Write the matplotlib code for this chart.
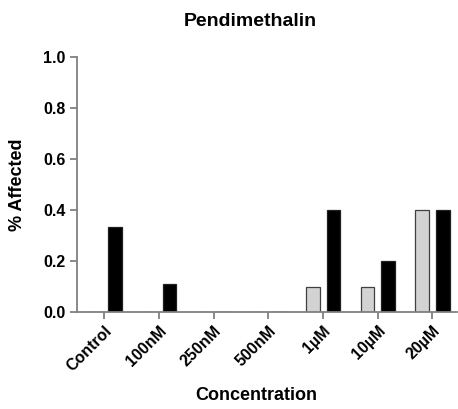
import matplotlib
matplotlib.use("Agg")
import matplotlib.pyplot as plt
import numpy as np

categories = ["Control", "100nM", "250nM", "500nM", "1µM", "10µM", "20µM"]
series_grey = [0, 0, 0, 0, 0.1, 0.1, 0.4]
series_black = [0.333, 0.111, 0, 0, 0.4, 0.2, 0.4]
yticks = [0.0, 0.2, 0.4, 0.6, 0.8, 1.0]

plt.rcParams['font.family'] = ['Liberation Sans', 'DejaVu Sans']
plt.rcParams['font.weight'] = 'bold'

fig = plt.figure(figsize=(4.58, 4.09), dpi=100)
ax = fig.add_axes([0.168, 0.237, 0.83, 0.624])

x = np.arange(len(categories))
w = 0.25
ax.bar(x - 0.19, series_grey, width=w, color='#d3d3d3', edgecolor='#404040', linewidth=0.9)
ax.bar(x + 0.19, series_black, width=w, color='black', edgecolor='#202020', linewidth=0.9)

ax.set_xlim(-0.5, 6.45)
ax.set_ylim(0, 1.0)
ax.set_yticks(yticks)
ax.set_yticklabels([f"{v:.1f}" for v in yticks], fontsize=11.5, fontweight='bold')
ax.set_xticks(x)
ax.set_xticklabels(categories, rotation=45, ha='right', rotation_mode='anchor', fontsize=11.5, fontweight='bold')

for s in ['top', 'right']:
    ax.spines[s].set_visible(False)
for s in ['left', 'bottom']:
    ax.spines[s].set_color('#808080')
    ax.spines[s].set_linewidth(1.3)
ax.tick_params(axis='both', color='#808080', width=1.3, length=5, direction='out', pad=3)

fig.text(250 / 458, 1 - 22 / 409, "Pendimethalin", fontsize=14, fontweight='bold', ha='center', va='center')
fig.text(18 / 458, 1 - 185 / 409, "% Affected", fontsize=13, fontweight='bold', ha='center', va='center', rotation=90)
fig.text(256 / 458, 1 - 396 / 409, "Concentration", fontsize=13, fontweight='bold', ha='center', va='center')

fig.savefig("out.png", dpi=100)
